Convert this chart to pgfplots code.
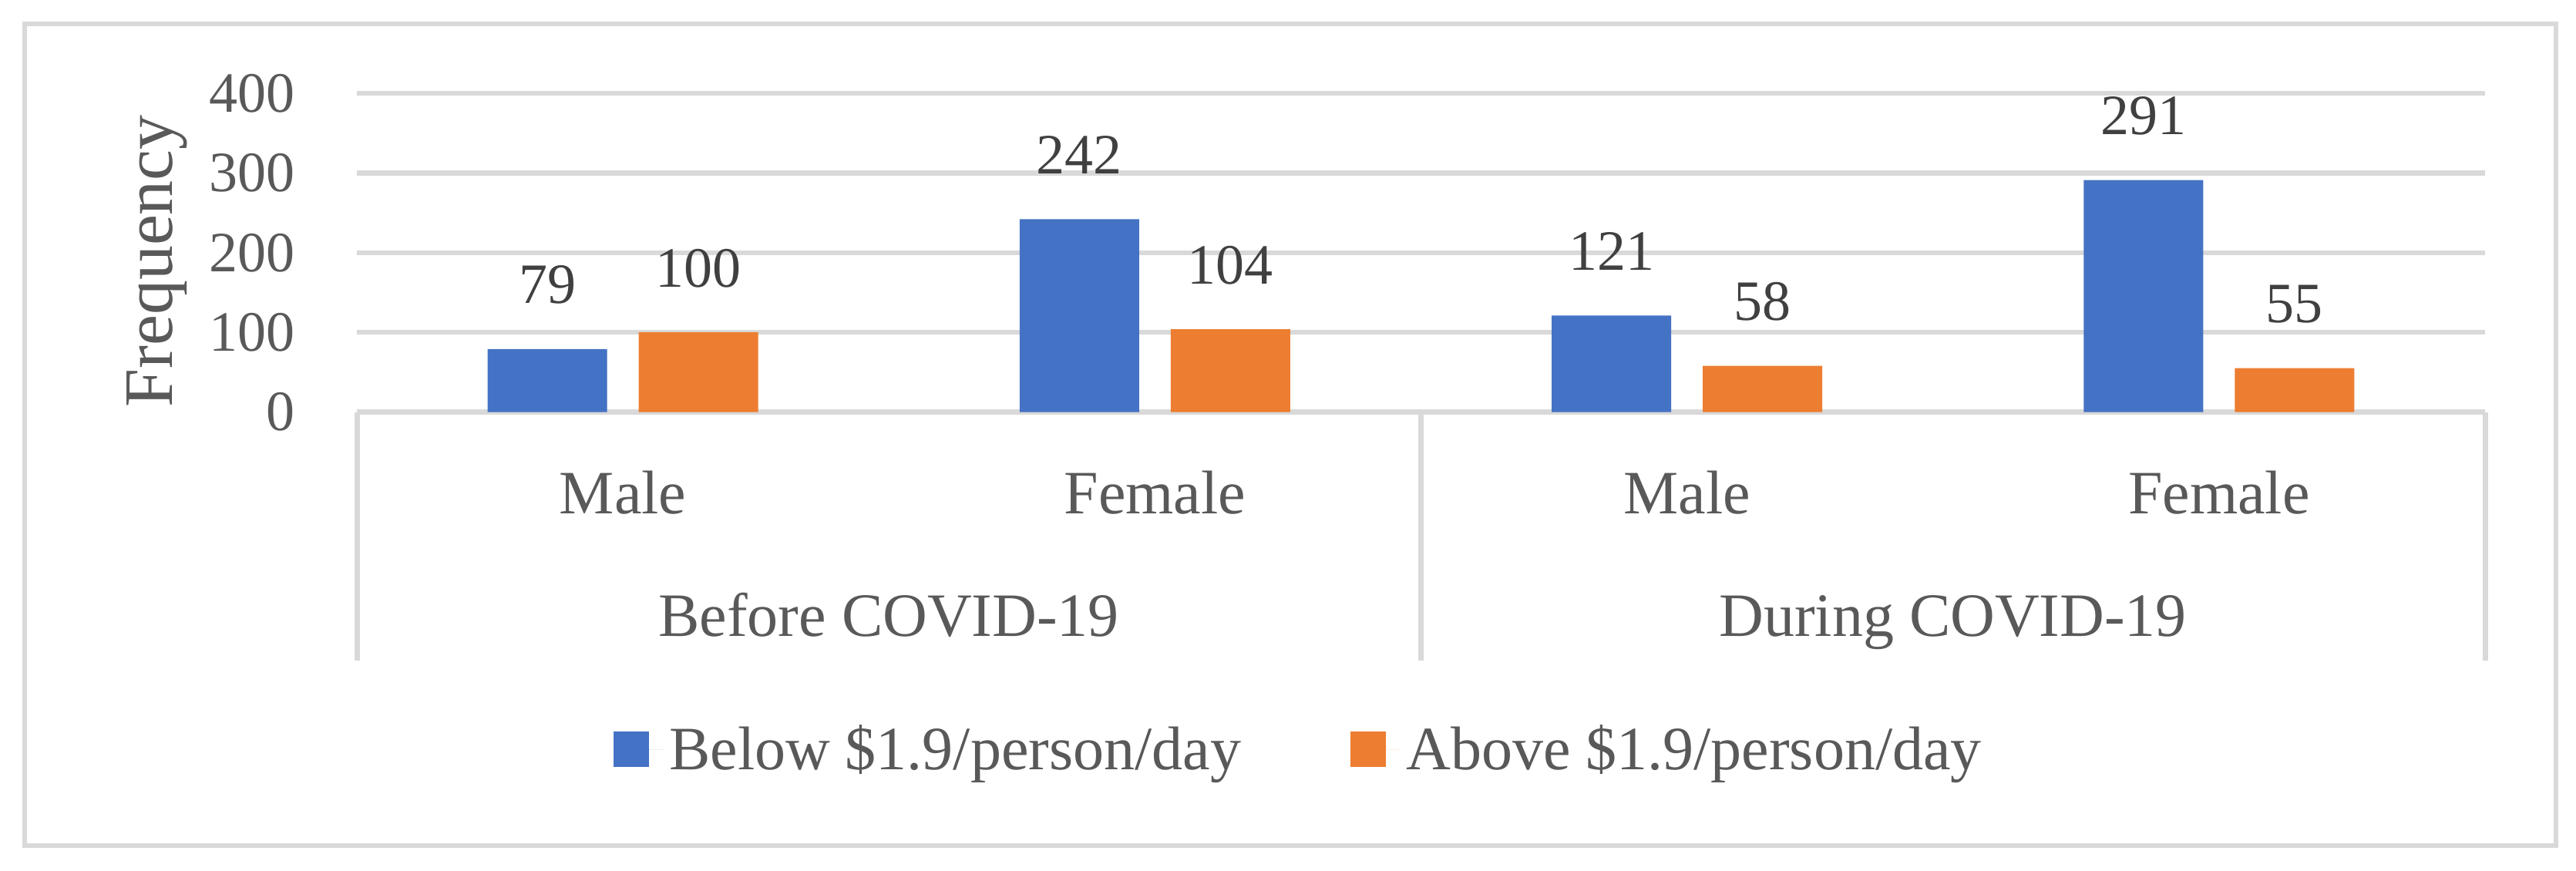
\documentclass[border=0pt]{standalone}
\usepackage{pgfplots}
\pgfplotsset{compat=1.18}
\usepackage{fontspec}
\setmainfont{Liberation Serif}
\definecolor{barblue}{HTML}{4472C4}
\definecolor{barorange}{HTML}{ED7D31}
\definecolor{gridgray}{HTML}{D9D9D9}
\definecolor{txtgray}{HTML}{595959}
\definecolor{lblgray}{HTML}{404040}
\newcommand\txtfont{\fontsize{20}{24}\selectfont}
\newcommand\numfont{\fontsize{18.5}{22}\selectfont}

\begin{document}
\begin{tikzpicture}
\path[use as bounding box] (0,0) rectangle (835.5pt,282.25pt);
% chart frame
\draw[gridgray, line width=1.5pt] (8pt,8pt) rectangle (829pt,274.5pt);
\begin{axis}[
  at={(115.75pt,148.6pt)}, anchor=south west,
  width=690.25pt, height=103.4pt, scale only axis,
  ybar=10.25pt, bar width=38.75pt,
  xmin=-0.5, xmax=3.5, ymin=0, ymax=400,
  enlargelimits=false,
  clip=false,
  xtick={0,1,2,3},
  xticklabels={Male,Female,Male,Female},
  ytick={0,100,200,300,400},
  axis lines*=left,
  y axis line style={draw=none},
  x axis line style={gridgray, line width=1.6pt},
  major tick length=0pt, tick style={draw=none},
  ymajorgrids, grid style={gridgray, line width=1.6pt},
  /pgf/number format/assume math mode=true,
  xticklabel style={font=\txtfont, text=txtgray, anchor=base, inner sep=0pt, yshift=-33pt},
  yticklabel style={font=\numfont, text=txtgray, anchor=east, inner sep=0pt, xshift=-20pt},
  nodes near coords,
  every node near coord/.append style={font=\numfont, text=lblgray, anchor=base, inner sep=0pt, yshift=14.75pt},
  legend columns=2,
  legend style={at={(0.4435,-1.058)}, anchor=center, draw=none, fill=none,
    font=\txtfont, text=txtgray,
    /tikz/every even column/.append style={column sep=33.5pt}},
  legend image code/.code={\fill[#1] (0pt,-5.75pt) rectangle (11.5pt,5.75pt); \path (0pt,0pt) -- (16pt,0pt);},
]
\addplot[fill=barblue, draw=none] coordinates {(0,79) (1,242) (2,121) (3,291)};
\addplot[fill=barorange, draw=none] coordinates {(0,100) (1,104) (2,58) (3,55)};
\legend{Below \$1.9/person/day, Above \$1.9/person/day}
% multi-level category dividers
\draw[gridgray, line width=1.75pt] (axis cs:-0.5,0) -- ++(0pt,-80.6pt);
\draw[gridgray, line width=1.75pt] (axis cs:1.5,0) -- ++(0pt,-80.6pt);
\draw[gridgray, line width=1.75pt] (axis cs:3.5,0) -- ++(0pt,-80.6pt);
\path (axis cs:0.5,0) ++(0pt,-72.6pt) node[anchor=base, font=\txtfont, text=txtgray, inner sep=0pt] {Before COVID-19};
\path (axis cs:2.5,0) ++(0pt,-72.6pt) node[anchor=base, font=\txtfont, text=txtgray, inner sep=0pt] {During COVID-19};
\end{axis}
\node[rotate=90, anchor=base, font=\fontsize{22.5}{27}\selectfont, text=txtgray, inner sep=0pt] at (55.75pt,197.5pt) {Frequency};
\end{tikzpicture}
\end{document}
